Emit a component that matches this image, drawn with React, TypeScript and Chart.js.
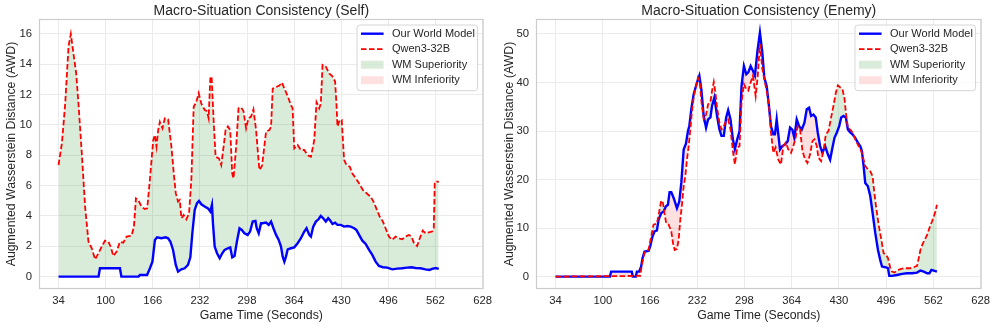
import React, { useEffect, useRef } from 'react';
import { Chart, registerables } from 'chart.js';

Chart.register(...registerables);

// ---------- data ----------
const xTickValues = [34, 100, 166, 232, 298, 364, 430, 496, 562, 628];
const selfYTicks = [0, 2, 4, 6, 8, 10, 12, 14, 16];
const enemyYTicks = [0, 10, 20, 30, 40, 50];

const titleSelf = 'Macro-Situation Consistency (Self)';
const titleEnemy = 'Macro-Situation Consistency (Enemy)';
const xAxisLabel = 'Game Time (Seconds)';
const yAxisLabel = 'Augmented Wasserstein Distance (AWD)';
const legendLabels = ['Our World Model', 'Qwen3-32B', 'WM Superiority', 'WM Inferiority'];

// Self — Our World Model
const selfWmTime = [34, 90, 92, 120, 122, 146, 148, 158, 162, 165.5, 169, 172, 178, 184, 187.5, 190.7, 194.4, 198.2, 201.4, 206, 210.7, 215.3, 218.6, 221.4, 224.7, 228, 230.7, 234, 238.7, 243.3, 246.6, 248.9, 250.3, 252.7, 256, 259.7, 263.3, 266.6, 271.2, 274.5, 277.3, 280.5, 283.8, 287.5, 290.7, 294.4, 299, 302.3, 306, 309.8, 311.6, 314.4, 317.7, 320, 324.7, 328.4, 331.7, 335, 338.7, 342.4, 345.6, 348, 350.3, 352.6, 355, 359.6, 364.2, 368.9, 373.5, 378.2, 381.4, 385.2, 387.5, 390.8, 394.5, 398.2, 401.4, 404.7, 408.4, 411.7, 414, 417.7, 421.4, 424.7, 429.4, 434, 438.7, 443.3, 448, 451.2, 455, 459.6, 464.2, 469, 473.5, 478.2, 482.8, 488.4, 494.5, 501.5, 508.4, 515.4, 522.4, 528.4, 534, 541, 548, 553.5, 557.3, 562, 566.6];
const selfWmValue = [0, 0, 0.55, 0.55, 0, 0, 0.11, 0.11, 0.55, 0.99, 2.42, 2.59, 2.53, 2.59, 2.53, 2.3, 1.76, 0.77, 0.33, 0.48, 0.55, 0.77, 1.27, 2.86, 4.4, 4.84, 4.99, 4.77, 4.62, 4.5, 4.29, 4.73, 3.52, 1.98, 1.54, 1.21, 1.54, 1.76, 1.87, 1.93, 1.27, 1.36, 2.3, 3.19, 3.08, 2.86, 2.75, 2.97, 3.63, 3.67, 3.19, 2.86, 3.52, 3.52, 3.56, 3.41, 3.63, 3.19, 2.75, 2.42, 1.98, 1.32, 0.99, 1.32, 1.8, 1.87, 1.93, 2.2, 2.53, 2.97, 3.19, 2.75, 2.64, 3.3, 3.63, 3.78, 4.0, 3.85, 3.63, 3.85, 3.74, 3.47, 3.56, 3.41, 3.41, 3.3, 3.34, 3.3, 3.19, 3.08, 2.75, 2.37, 2.15, 1.76, 1.43, 0.99, 0.7, 0.62, 0.59, 0.48, 0.53, 0.55, 0.59, 0.62, 0.57, 0.55, 0.48, 0.44, 0.51, 0.57, 0.51];

// Self — Qwen3-32B
const selfQwTime = [34, 38.7, 43.3, 48, 51.2, 54.9, 58.7, 61.9, 66.6, 71.2, 75.9, 80.5, 85.2, 89.8, 94.5, 99.1, 103.8, 107, 110.7, 115.4, 120, 124.7, 129.3, 136.3, 139.6, 142.4, 145.6, 150.3, 154.9, 158.2, 161.9, 166.6, 168.9, 171.2, 173.6, 175.9, 179.6, 182.8, 187.5, 192.1, 195.4, 198.2, 201.4, 203.8, 206.1, 209.3, 213, 216.8, 220, 223.3, 227, 230.3, 234, 238.7, 241.9, 244.2, 246.6, 248.4, 251.2, 254, 258.7, 261.9, 265.2, 268, 271.2, 274.5, 277.3, 279.1, 282.8, 286.1, 289.8, 293.1, 296.7, 300, 303.7, 307, 310.7, 315.3, 319, 322.3, 324.7, 329.4, 331.7, 334, 338.7, 343.3, 347, 350.3, 355, 359.6, 361.9, 364.2, 368.9, 373.5, 378.2, 382.8, 387.5, 392.2, 395.4, 399.1, 401.4, 403.8, 408.4, 413.1, 417.7, 421.4, 423.3, 424.7, 428, 430.7, 434, 437.3, 441.9, 445.6, 450.3, 454.9, 460.5, 466.6, 471.2, 475.9, 479.1, 483.8, 488.4, 492.1, 496.8, 501.5, 506.1, 510.7, 515.4, 520, 524.7, 528.4, 531.7, 536.3, 540, 544.2, 548, 552.6, 557.3, 559.6, 561, 563.3, 566.6];
const selfQwValue = [7.36, 8.8, 11.4, 15.2, 16.0, 14.7, 13.4, 11.4, 8.1, 4.6, 2.3, 1.87, 1.14, 1.54, 1.98, 2.37, 2.3, 1.98, 1.36, 1.65, 2.3, 2.24, 2.64, 2.7, 3.3, 5.16, 5.05, 4.6, 4.46, 4.5, 6.37, 9.0, 9.34, 8.57, 9.67, 10.2, 9.78, 10.44, 10.37, 8.57, 6.8, 5.5, 4.95, 5.05, 3.85, 4.07, 3.78, 4.18, 6.37, 11.2, 11.5, 12.1, 11.4, 11.0, 10.9, 10.44, 13.08, 13.2, 10.33, 7.9, 7.8, 7.36, 8.57, 9.67, 9.9, 9.67, 6.8, 6.48, 8.57, 11.1, 11.16, 10.9, 9.78, 10.44, 10.55, 11.03, 9.67, 7.03, 7.3, 8.6, 9.56, 9.67, 9.9, 12.4, 12.5, 12.6, 12.8, 12.4, 11.9, 11.3, 11.1, 8.46, 8.68, 8.35, 8.35, 8.0, 7.9, 9.0, 11.5, 11.1, 11.4, 13.96, 13.85, 13.4, 13.2, 12.86, 11.4, 9.9, 10.33, 10.33, 7.7, 7.36, 7.25, 6.8, 6.48, 6.15, 5.7, 5.45, 5.27, 4.88, 4.5, 3.96, 3.63, 3.19, 2.64, 2.42, 2.64, 2.53, 2.46, 2.64, 2.75, 2.64, 2.24, 2.02, 2.53, 3.03, 2.86, 2.92, 2.97, 3.19, 6.15, 6.3, 6.22];

// Enemy — Our World Model
const enemyWmTime = [34, 110, 111.6, 140.5, 141.9, 146.1, 147.6, 150.8, 153.6, 155.5, 158.3, 163.9, 166.2, 169.5, 172.3, 175.6, 177.9, 181.7, 184.9, 188.2, 191, 193.3, 195.7, 199, 203.6, 206.9, 209.7, 213, 216.2, 219, 220.9, 223.7, 227, 231.6, 234.9, 237.7, 241, 244.3, 247.1, 250.4, 252.7, 256, 259.7, 263, 265.8, 269.1, 272.4, 275.2, 278.5, 281.8, 284.6, 287.9, 291.1, 293.9, 297.2, 300.5, 303.3, 306.6, 309.8, 312.6, 315.9, 319.6, 322.9, 325.7, 329, 332.2, 335, 338.3, 340.6, 343, 345.3, 347.6, 350.9, 354.7, 358.4, 361.7, 364.9, 367.7, 371, 374.3, 378, 381.8, 385, 388.3, 391.1, 394.4, 397.6, 400.4, 403.7, 407, 410.7, 414.5, 417.7, 421, 423.8, 427.1, 430.4, 433.2, 436.4, 439.7, 442.5, 445.8, 449, 452.8, 456.5, 459.8, 462.1, 464.5, 466.8, 470.5, 473.8, 477.1, 480.8, 484.6, 487.8, 490.2, 494.8, 498.6, 500.4, 504.2, 511.2, 518.2, 525.2, 532.2, 539.2, 543.9, 548.6, 553.3, 556.5, 559.3, 562.6, 567];
const enemyWmValue = [0, 0, 1.03, 1.03, 0, 0, 1.03, 1.03, 2.07, 3.8, 5.17, 5.3, 6.2, 8.3, 9.3, 9.5, 11.7, 13.1, 13.4, 14.5, 14.8, 17.4, 17.4, 16.2, 14.1, 15.5, 19.3, 26.2, 27.4, 30, 31, 34.5, 37.6, 40, 41.4, 38.6, 33.1, 30.7, 32.4, 32.8, 35.2, 36.9, 33.1, 30.3, 29, 29, 32.8, 34.3, 32.4, 28.3, 26.3, 28.3, 30, 39.3, 43.4, 41.7, 42.1, 43.4, 42.4, 41.4, 46.2, 50.3, 46.2, 41, 39.3, 35.2, 31, 29.3, 29.3, 32.4, 29.3, 26.2, 26.9, 27.2, 27.9, 30.7, 30.3, 28.6, 32.4, 31, 30.3, 31.7, 34.5, 34.8, 33.1, 33.4, 32.8, 29.7, 26.9, 25.5, 26.9, 25.2, 24.1, 26.6, 28.6, 29.7, 31, 32.8, 33.1, 32.8, 30.3, 29.7, 29.3, 28.6, 27.6, 26.9, 25.9, 22.8, 19.3, 18.6, 16.6, 13.1, 9, 5.5, 3.4, 2.07, 1.93, 1.72, 0.14, 0.14, 0.34, 0.55, 0.69, 0.69, 0.83, 1.24, 1.03, 0.69, 0.69, 1.38, 1.24, 1.03];

// Enemy — Qwen3-32B
const enemyQwTime = [34, 152.2, 154.6, 156.9, 159.3, 163.9, 167.6, 170.9, 175.6, 178.8, 181.7, 184, 186.4, 188.7, 192, 195.7, 198.1, 200.4, 203.6, 206, 208.3, 210.6, 213, 215.3, 217.6, 220, 222.3, 224.6, 227, 229.3, 233, 235.4, 237.7, 241, 244.3, 247.1, 250.4, 252.7, 255.1, 257.4, 259.7, 263, 265.8, 269.1, 272.4, 275.2, 278.5, 281.8, 284.6, 287.9, 291.1, 293.9, 297.2, 300.5, 303.3, 306.6, 309.8, 313.6, 316.3, 319.6, 322.9, 326.6, 329.9, 332.7, 335, 338.3, 341.5, 345.3, 349, 352.3, 355.6, 359.3, 363.1, 366.3, 369.6, 372.4, 375.7, 379, 382.7, 386, 389.7, 393, 395.8, 399, 401.4, 405.1, 408.4, 411.7, 415.4, 419.1, 422.4, 425.7, 428.5, 431.8, 435, 437.9, 439.7, 442.5, 445.8, 449, 451.9, 455.1, 458.4, 461.2, 464.5, 466.8, 470.5, 473.8, 477.1, 478.5, 481.8, 485.5, 489.3, 492.5, 495.8, 498.6, 501.9, 504.2, 507.9, 511.2, 515.9, 520.6, 525.2, 529.9, 534.6, 539.2, 541.6, 543.9, 547.2, 550, 553.3, 556.5, 560.2, 562.6, 564.9, 567];
const enemyQwValue = [0, 0.14, 2.4, 4.1, 5.2, 5.5, 8.3, 10.7, 10.9, 13.4, 15.7, 15.2, 12.8, 10.9, 10.7, 9.3, 6.9, 5.5, 5.7, 7.6, 11.7, 14.8, 18.6, 20.7, 24.1, 26.9, 30.3, 34.1, 36.9, 38.6, 41, 40.3, 36.2, 32.4, 33.4, 35.5, 36, 38.3, 40.1, 37.9, 34.8, 31.7, 30.3, 31, 32.1, 32.4, 30.3, 25.9, 23.1, 26.6, 26.9, 35.9, 39.7, 38.6, 38.3, 40, 41.4, 37.2, 41, 47.9, 42.8, 40, 37.6, 34.5, 29.7, 25.5, 26.6, 24.1, 23.1, 26.9, 27.6, 26.2, 25.5, 26.9, 28.6, 31, 30.3, 25.9, 24.1, 23.4, 25.2, 27.9, 28.3, 26.9, 24.5, 23.8, 25.9, 29.3, 30, 32.8, 35.2, 37.9, 39.4, 39, 38.6, 36.6, 33.8, 30.7, 30.3, 29.7, 28.6, 27.6, 26.6, 25.9, 24.1, 22.8, 22.1, 21.7, 20.7, 18.6, 14.5, 10.7, 7.6, 4.8, 4.5, 3.8, 1.72, 1.03, 0.83, 1.24, 1.52, 1.72, 1.72, 1.72, 1.93, 2.2, 3.8, 5.5, 6.8, 7.6, 8.6, 10, 11.4, 12.4, 13.4, 14.8];

// ---------- style ----------
const FONT = '"Liberation Sans", Arial, Helvetica, sans-serif';
const TEXT = '#262626';
const BLUE = '#0000ff';
const RED = '#ff0000';
const GREEN_FILL = 'rgba(0,128,0,0.15)';
const RED_FILL = 'rgba(255,0,0,0.12)';
const GRID = '#ebebeb';
const FRAME = '#cccccc';

const zip = (t: number[], v: number[]) => t.map((x, i) => ({ x, y: v[i] }));

type PanelProps = {
  left: number;
  title: string;
  wmT: number[]; wmV: number[];
  qwT: number[]; qwV: number[];
  yTicks: number[];
  yMin: number; yMax: number;
  yWidth: number; padRight: number;
};

function Panel(p: PanelProps) {
  const ref = useRef<HTMLCanvasElement | null>(null);
  useEffect(() => {
    if (!ref.current) return;
    const deco = {
      id: 'deco',
      afterDraw(chart: any) {
        const ctx = chart.ctx;
        const a = chart.chartArea;
        ctx.save();
        // frame
        ctx.strokeStyle = FRAME;
        ctx.lineWidth = 1.2;
        ctx.strokeRect(a.left - 0.5, a.top - 0.5, a.right - a.left + 1, a.bottom - a.top + 1);
        // title
        ctx.fillStyle = TEXT;
        ctx.font = `14px ${FONT}`;
        ctx.textAlign = 'center';
        ctx.textBaseline = 'middle';
        ctx.fillText(p.title, (a.left + a.right) / 2, 11);
        // legend
        const w = 120.6, h = 65.7;
        const lx = a.right - 5 - w, ly = a.top + 5;
        ctx.beginPath();
        (ctx as any).roundRect(lx, ly, w, h, 3);
        ctx.fillStyle = 'rgba(255,255,255,0.8)';
        ctx.fill();
        ctx.strokeStyle = '#d6d6d6';
        ctx.lineWidth = 1;
        ctx.stroke();
        ctx.font = `11px ${FONT}`;
        ctx.textAlign = 'left';
        for (let i = 0; i < legendLabels.length; i++) {
          const cy = ly + 8.7 + i * 15.5;
          const hx0 = lx + 4, hx1 = lx + 26.6;
          if (i === 0) {
            ctx.strokeStyle = BLUE; ctx.lineWidth = 2.4; ctx.setLineDash([]);
            ctx.beginPath(); ctx.moveTo(hx0, cy); ctx.lineTo(hx1, cy); ctx.stroke();
          } else if (i === 1) {
            ctx.strokeStyle = RED; ctx.lineWidth = 1.8; ctx.setLineDash([5.5, 2.5]);
            ctx.beginPath(); ctx.moveTo(hx0, cy); ctx.lineTo(hx1, cy); ctx.stroke();
            ctx.setLineDash([]);
          } else {
            ctx.fillStyle = i === 2 ? GREEN_FILL : RED_FILL;
            ctx.fillRect(hx0, cy - 4, hx1 - hx0, 8);
          }
          ctx.fillStyle = TEXT;
          ctx.fillText(legendLabels[i], lx + 35, cy);
        }
        ctx.restore();
      },
    };
    const chart = new Chart(ref.current, {
      type: 'line',
      data: {
        datasets: [
          {
            label: 'Qwen3-32B',
            data: zip(p.qwT, p.qwV),
            borderColor: RED,
            borderWidth: 1.8,
            borderDash: [5.5, 2.5],
            pointRadius: 0,
            tension: 0,
            fill: { target: 1, above: GREEN_FILL, below: RED_FILL },
          },
          {
            label: 'Our World Model',
            data: zip(p.wmT, p.wmV),
            borderColor: BLUE,
            borderWidth: 2.4,
            pointRadius: 0,
            tension: 0,
            fill: false,
          },
        ],
      },
      options: {
        animation: false,
        responsive: false,
        devicePixelRatio: 1,
        layout: { padding: { top: 20, right: p.padRight, bottom: 0, left: 0 } },
        plugins: {
          legend: { display: false },
          title: { display: false },
          tooltip: { enabled: false },
          filler: { drawTime: 'beforeDatasetsDraw' },
        },
        scales: {
          x: {
            type: 'linear',
            min: 8,
            max: 628,
            afterBuildTicks: (s: any) => { s.ticks = xTickValues.map((v) => ({ value: v })); },
            afterFit: (s: any) => { s.height = 39; },
            ticks: {
              autoSkip: false, maxRotation: 0, padding: 6,
              color: TEXT, font: { family: FONT, size: 11.3 },
              callback: (v: any) => String(v),
            },
            grid: { color: GRID, lineWidth: 1, drawTicks: false },
            border: { display: false },
            title: { display: true, text: xAxisLabel, color: TEXT, font: { family: FONT, size: 12.3 }, padding: { top: 4, bottom: 4 } },
          },
          y: {
            type: 'linear',
            min: p.yMin,
            max: p.yMax,
            afterBuildTicks: (s: any) => { s.ticks = p.yTicks.map((v) => ({ value: v })); },
            afterFit: (s: any) => { s.width = p.yWidth; },
            ticks: {
              padding: 8, color: TEXT, font: { family: FONT, size: 11.3 },
              callback: (v: any) => String(v),
            },
            grid: { color: GRID, lineWidth: 1, drawTicks: false },
            border: { display: false },
            title: { display: true, text: yAxisLabel, color: TEXT, font: { family: FONT, size: 12.3 }, padding: { top: 4, bottom: 4 } },
          },
        },
      },
      plugins: [deco],
    } as any);
    return () => chart.destroy();
  }, []);
  return (
    <canvas
      ref={ref}
      width={498}
      height={327}
      style={{ position: 'absolute', left: p.left, top: 0, width: 498, height: 327 }}
    />
  );
}

export default function App() {
  return (
    <div style={{ position: 'fixed', left: 0, top: 0, width: 996, height: 327, background: '#ffffff' }}>
      <Panel left={0} title={titleSelf} wmT={selfWmTime} wmV={selfWmValue} qwT={selfQwTime} qwV={selfQwValue}
        yTicks={selfYTicks} yMin={-0.75} yMax={16.92} yWidth={40} padRight={14.5} />
      <Panel left={498} title={titleEnemy} wmT={enemyWmTime} wmV={enemyWmValue} qwT={enemyQwTime} qwV={enemyQwValue}
        yTicks={enemyYTicks} yMin={-2.35} yMax={52.88} yWidth={39} padRight={15} />
    </div>
  );
}
